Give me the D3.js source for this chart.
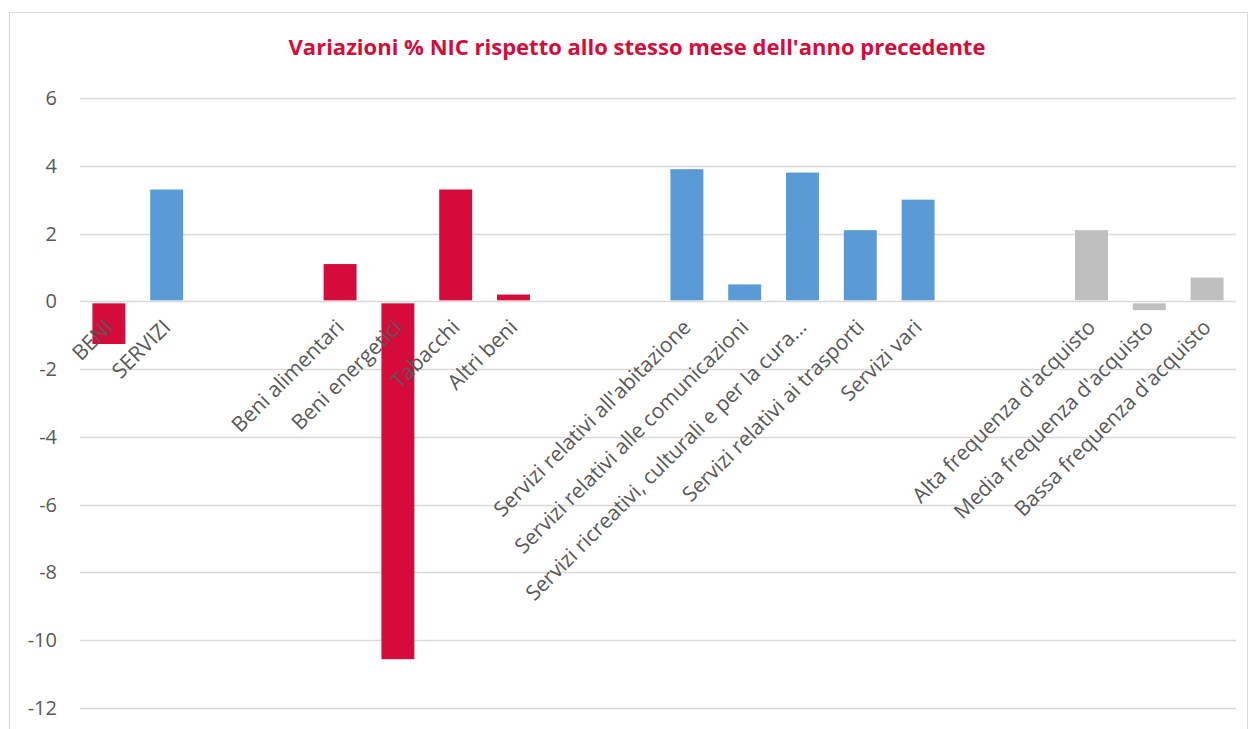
<!DOCTYPE html>
<html>
<head>
<meta charset="utf-8">
<script src="https://cdn.jsdelivr.net/npm/d3@7"></script>
<style>
    body { margin: 0; background: #fff; }
    svg { display: block; }
    .lbl { font-family: "Open Sans", "DejaVu Sans", sans-serif; fill: #595959; }
    .ttl { font-family: "Open Sans", "DejaVu Sans", sans-serif; font-weight: bold; fill: #D50B3B; }
</style>
</head>
<body>
<div id="chart"></div>
<script>
// --- Data ---
const categories = [
    "BENI", "SERVIZI", "gap1", "gap2",
    "Beni alimentari", "Beni energetici", "Tabacchi", "Altri beni", "gap3", "gap4",
    "Servizi relativi all'abitazione", "Servizi relativi alle comunicazioni",
    "Servizi ricreativi, culturali e per la cura…", "Servizi relativi ai trasporti", "Servizi vari",
    "gap5", "gap6",
    "Alta frequenza d'acquisto", "Media frequenza d'acquisto", "Bassa frequenza d'acquisto"
];
const values = [
    -1.2, 3.3, null, null,
    1.1, -10.5, 3.3, 0.2, null, null,
    3.9, 0.5, 3.8, 2.1, 3.0,
    null, null,
    2.1, -0.2, 0.7
];
const groups = [
    "beni", "servizi", null, null,
    "beni", "beni", "beni", "beni", null, null,
    "servizi", "servizi", "servizi", "servizi", "servizi",
    null, null,
    "freq", "freq", "freq"
];
const yTicks = [6, 4, 2, 0, -2, -4, -6, -8, -10, -12];
const title = "Variazioni % NIC rispetto allo stesso mese dell'anno precedente";

// --- Layout ---
const width = 1254, height = 729;
const plot = { left: 80, right: 1236, top: 98, bottom: 708 };
const colors = { beni: "#D50B3B", servizi: "#5B9BD5", freq: "#BFBFBF" };

const svg = d3.select("#chart")
    .append("svg")
    .attr("width", width)
    .attr("height", height);

// chart frame
svg.append("rect")
    .attr("x", 9.5).attr("y", 12.5)
    .attr("width", 1238).attr("height", 740)
    .attr("fill", "#fff")
    .attr("stroke", "#D9D9D9");

const x = d3.scaleBand()
    .domain(categories)
    .range([plot.left, plot.right])
    .paddingInner(0.43)
    .paddingOuter(0.215);

const y = d3.scaleLinear()
    .domain([-12, 6])
    .range([plot.bottom, plot.top]);

// gridlines
svg.append("g")
    .selectAll("line")
    .data(yTicks)
    .join("line")
    .attr("x1", plot.left).attr("x2", plot.right)
    .attr("y1", d => Math.round(y(d)) + 0.5)
    .attr("y2", d => Math.round(y(d)) + 0.5)
    .attr("stroke", "#D9D9D9")
    .attr("stroke-width", 1.5);

// y labels
svg.append("g")
    .selectAll("text")
    .data(yTicks)
    .join("text")
    .attr("class", "lbl")
    .attr("x", 57)
    .attr("y", d => y(d))
    .attr("dy", "0.35em")
    .attr("text-anchor", "end")
    .attr("font-size", 20)
    .text(d => d);

// bars
const data = categories.map((c, i) => ({ c, v: values[i], g: groups[i] }))
    .filter(d => d.v !== null);

svg.append("g")
    .selectAll("rect")
    .data(data)
    .join("rect")
    .attr("x", d => x(d.c))
    .attr("width", x.bandwidth())
    .attr("y", d => d.v >= 0 ? y(d.v) : y(0) + 2)
    .attr("height", d => Math.abs(y(d.v) - y(0)) - (d.v >= 0 ? 1 : 0))
    .attr("fill", d => colors[d.g]);

// category labels (rotated)
svg.append("g")
    .selectAll("text")
    .data(data)
    .join("text")
    .attr("class", "lbl")
    .attr("transform", d => `translate(${x(d.c) + x.bandwidth() / 2},${y(0) + 22}) rotate(-45)`)
    .attr("dy", "0.35em")
    .attr("text-anchor", "end")
    .attr("font-size", 21)
    .text(d => d.c);

// title
svg.append("text")
    .attr("class", "ttl")
    .attr("x", 637)
    .attr("y", 55)
    .attr("text-anchor", "middle")
    .attr("font-size", 22)
    .text(title);
</script>
</body>
</html>
